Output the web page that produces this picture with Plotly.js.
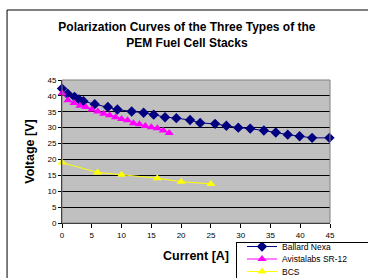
<!DOCTYPE html>
<html><head><meta charset="utf-8">
<script src="https://cdn.plot.ly/plotly-3.0.1.min.js"></script>
<style>html,body{margin:0;padding:0;background:#fff;overflow:hidden;}#chart{width:368px;height:278px;}</style>
</head><body><div id="chart"></div>
<script>
const ballardI = [0, 0.95, 2.1, 2.85, 3.6, 5.5, 7.7, 9.3, 11.7, 13.7, 15.4, 17.3, 19.2, 21.5, 23.2, 25.7, 27.6, 29.6, 31.6, 33.9, 35.9, 37.9, 39.9, 42, 44.9];
const ballardV = [42.3, 40.7, 39.7, 38.9, 38.3, 37.4, 36.5, 35.7, 35.1, 34.7, 34.1, 33.3, 33.0, 32.4, 31.5, 31.2, 30.6, 30.0, 29.7, 29.1, 28.5, 27.8, 27.3, 26.8, 26.8];
const avistaI = [0, 1, 2, 3, 4, 5, 6, 7, 8, 9, 10, 11, 12, 13, 14, 15, 16, 17, 18];
const avistaV = [40.8, 38.6, 37.8, 36.9, 36.5, 35.7, 35.1, 34.4, 33.9, 33.3, 32.7, 32.3, 31.4, 31.1, 30.5, 30.1, 29.8, 29.1, 28.3];
const bcsI = [0, 6, 10, 16, 20, 25];
const bcsV = [19.0, 15.9, 15.2, 14.1, 13.0, 12.3];
const seriesNames = ["Ballard Nexa", "Avistalabs SR-12", "BCS"];
const tickVals = [0, 5, 10, 15, 20, 25, 30, 35, 40, 45];

const F = "Liberation Sans, Arial, sans-serif";
const traces = [
  {x: ballardI, y: ballardV, name: seriesNames[0], mode: "lines+markers", cliponaxis: false,
   line: {color: "#000080", width: 1}, marker: {symbol: "diamond", size: 8, color: "#000080"}},
  {x: avistaI, y: avistaV, name: seriesNames[1], mode: "lines+markers", cliponaxis: false,
   line: {color: "#FF00FF", width: 1}, marker: {symbol: "triangle-up", size: 8, color: "#FF00FF"}},
  {x: bcsI, y: bcsV, name: seriesNames[2], mode: "lines+markers", cliponaxis: false,
   line: {color: "#FFFF00", width: 1}, marker: {symbol: "triangle-up", size: 8, color: "#FFFF00"}}
];
const layout = {
  width: 368, height: 278,
  margin: {l: 62, r: 38, t: 80, b: 55},
  paper_bgcolor: "#ffffff", plot_bgcolor: "#C0C0C0",
  font: {family: F, size: 8, color: "#000"},
  title: {text: "<b>Polarization Curves of the Three Types of the<br>PEM Fuel Cell Stacks</b>",
          font: {family: F, size: 12, color: "#000"}, x: 0.508, xanchor: "center",
          yref: "container", y: 1 - 31/278, yanchor: "top"},
  xaxis: {range: [0, 45], tickvals: tickVals, showgrid: false, zeroline: false, automargin: false,
          showline: true, linecolor: "#000", linewidth: 1, ticks: "outside", ticklen: 4, tickcolor: "#000",
          tickfont: {family: F, size: 8, color: "#000"},
          title: {text: "<b>Current [A]</b>", font: {family: F, size: 12.5, color: "#000"}, standoff: 12}},
  yaxis: {range: [0, 45], tickvals: tickVals, showgrid: true, gridcolor: "#000", gridwidth: 1, zeroline: false, automargin: false,
          showline: true, linecolor: "#000", linewidth: 1, ticks: "outside", ticklen: 3, tickcolor: "#000",
          tickfont: {family: F, size: 8, color: "#000"},
          title: {text: "<b>Voltage [V]</b>", font: {family: F, size: 12.5, color: "#000"}, standoff: 10}},
  legend: {x: 0.6, xanchor: "left", y: 0.95, yanchor: "top", bgcolor: "#fff",
           bordercolor: "#000", borderwidth: 1, font: {family: F, size: 8.5, color: "#000"}, tracegroupgap: 0},
  shapes: [
    {type: "rect", xref: "paper", yref: "paper", x0: 0, x1: 1, y0: 0, y1: 1,
     line: {color: "#808080", width: 1}, fillcolor: "rgba(0,0,0,0)"},
    {type: "rect", xref: "paper", yref: "paper", x0: -0.205, x1: 1.3, y0: -0.6, y1: 1.4895,
     line: {color: "#000", width: 1}, fillcolor: "rgba(0,0,0,0)"}
  ],
  showlegend: true
};
Plotly.newPlot("chart", traces, layout, {displayModeBar: false, staticPlot: true}).then(function(gd) {
  // move the legend below the plot (where the reference has it) and compact its rows
  const lg = gd.querySelector("g.legend");
  if (lg) lg.setAttribute("transform", "translate(236,242)");
  const items = gd.querySelectorAll(".legend .traces");
  items.forEach(function(el, i) {
    el.setAttribute("transform", "translate(" + 6 + "," + (4.5 + i * 12.5) + ")");
  });
  const bg = gd.querySelector(".legend rect.bg");
  if (bg) { bg.setAttribute("height", 80); bg.setAttribute("width", 200); }
  gd.querySelectorAll(".legend clipPath rect, defs clipPath[id*=legend] rect").forEach(function(r) {
    r.setAttribute("height", 80); r.setAttribute("width", 200);
  });
  gd.querySelectorAll(".legend .scrollbar").forEach(function(s) { s.style.display = "none"; });
});
</script></body></html>
